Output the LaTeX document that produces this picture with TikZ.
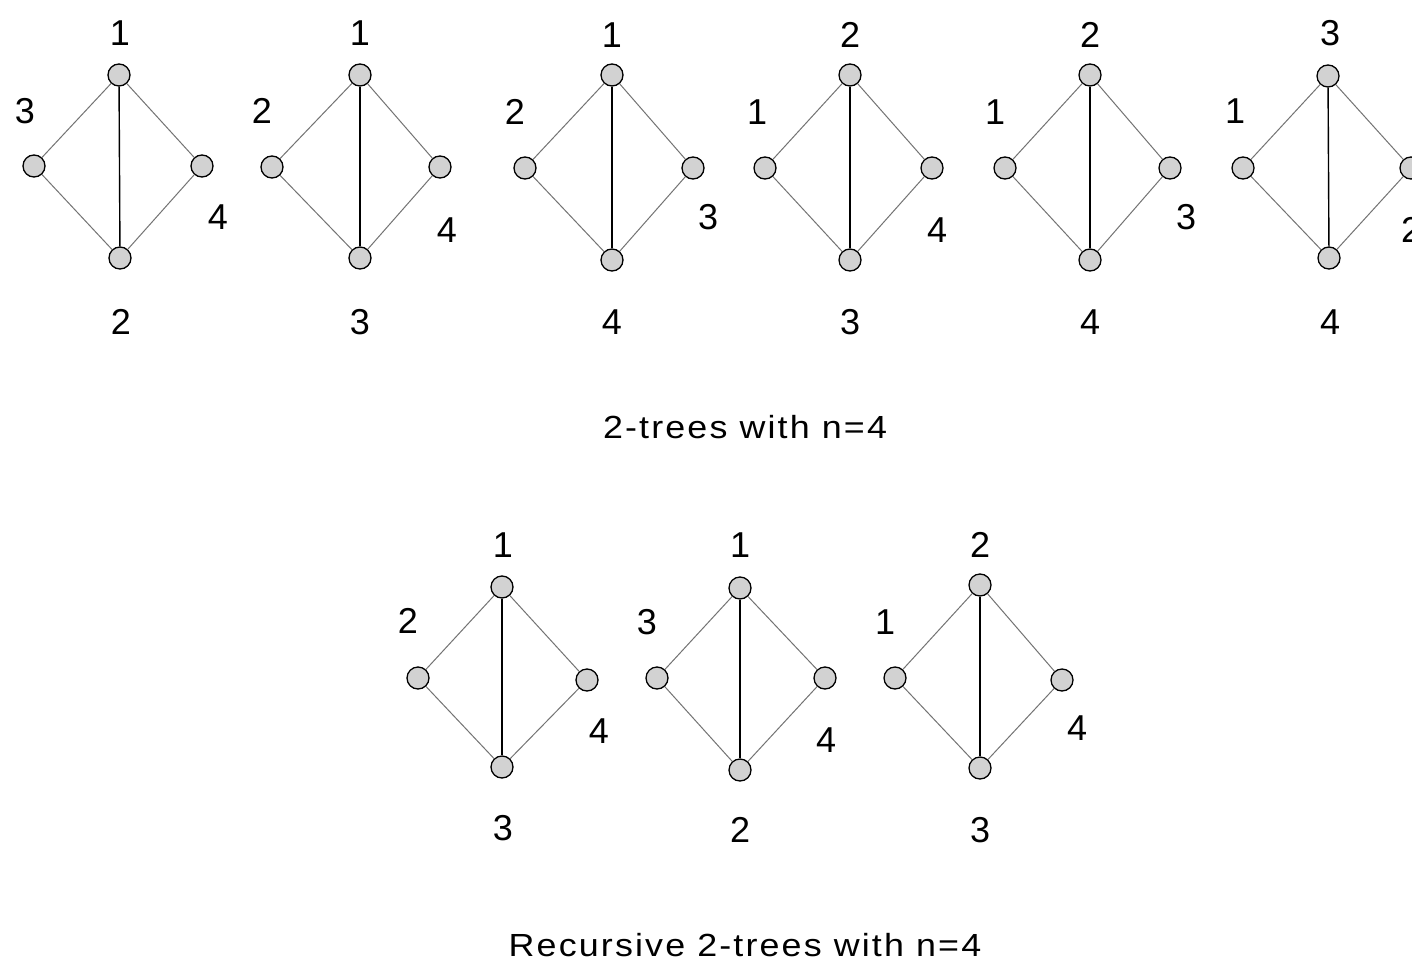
\documentclass[tikz,border=0pt]{standalone}
\usepackage{fontspec}
\setmainfont{Liberation Sans}
\newfontfamily\capfont[LetterSpace=6]{Liberation Sans}
\tikzset{
  vtx/.style={circle, draw=black, line width=1.3pt, fill=gray!35, minimum size=22pt, inner sep=0pt},
  diag/.style={draw=black!55, line width=1pt},
  vert/.style={draw=black, line width=1.4pt},
  lbl/.style={font=\fontsize{36}{40}\selectfont, inner sep=0pt},
  captext/.style={font=\capfont\fontsize{32}{36}\selectfont, inner sep=0pt}
}
\newcommand\tgraph[9]{%
  \node[vtx] (#1t) at (#2,#3) {};
  \node[vtx] (#1l) at (#4,#5) {};
  \node[vtx] (#1r) at (#6,#7) {};
  \node[vtx] (#1b) at (#8,#9) {};
  \draw[diag] (#1t) -- (#1l);
  \draw[diag] (#1t) -- (#1r);
  \draw[diag] (#1l) -- (#1b);
  \draw[diag] (#1r) -- (#1b);
  \draw[vert] (#1t) -- (#1b);
}
\begin{document}
\begin{tikzpicture}[x=1pt,y=-1pt]
\clip (0,0) rectangle (1412,971);
\fill[white] (0,0) rectangle (1412,971);
% top row
\tgraph{a}{119}{75}{34}{166}{202}{166}{120}{258}
\node[lbl] (aLt) at (120,33) {1};
\node[lbl] (aLl) at (25,111) {3};
\node[lbl] (aLr) at (218,217) {4};
\node[lbl] (aLb) at (121,322) {2};

\tgraph{b}{360}{75}{272}{167}{440}{167}{360}{258}
\node[lbl] (bLt) at (360,33) {1};
\node[lbl] (bLl) at (262,111) {2};
\node[lbl] (bLr) at (447,230) {4};
\node[lbl] (bLb) at (360,322) {3};

\tgraph{c}{612}{75}{525}{168}{693}{168}{612}{260}
\node[lbl] (cLt) at (612,35) {1};
\node[lbl] (cLl) at (515,112) {2};
\node[lbl] (cLr) at (708,217) {3};
\node[lbl] (cLb) at (612,322) {4};

\tgraph{d}{850}{75}{765}{168}{932}{168}{850}{260}
\node[lbl] (dLt) at (850,35) {2};
\node[lbl] (dLl) at (757,112) {1};
\node[lbl] (dLr) at (937,230) {4};
\node[lbl] (dLb) at (850,322) {3};

\tgraph{e}{1090}{75}{1005}{168}{1170}{168}{1090}{260}
\node[lbl] (eLt) at (1090,35) {2};
\node[lbl] (eLl) at (995,112) {1};
\node[lbl] (eLr) at (1186,217) {3};
\node[lbl] (eLb) at (1090,322) {4};

\tgraph{f}{1328}{76}{1243}{168}{1411}{168}{1329}{258}
\node[lbl] (fLt) at (1330,33) {3};
\node[lbl] (fLl) at (1235,111) {1};
\node[lbl] (fLr) at (1411,230) {2};
\node[lbl] (fLb) at (1330,322) {4};

\node[captext] (cap1) at (745,427) {\scalebox{1.12}[1]{2-trees with n=4}};

% bottom row
\tgraph{g}{502}{587}{418}{678}{587}{680}{502}{767}
\node[lbl] (gLt) at (503,545) {1};
\node[lbl] (gLl) at (408,621) {2};
\node[lbl] (gLr) at (599,731) {4};
\node[lbl] (gLb) at (503,828) {3};

\tgraph{h}{740}{588}{657}{678}{825}{678}{740}{770}
\node[lbl] (hLt) at (740,545) {1};
\node[lbl] (hLl) at (647,622) {3};
\node[lbl] (hLr) at (826,740) {4};
\node[lbl] (hLb) at (740,830) {2};

\tgraph{k}{980}{585}{895}{678}{1062}{680}{980}{768}
\node[lbl] (kLt) at (980,545) {2};
\node[lbl] (kLl) at (885,622) {1};
\node[lbl] (kLr) at (1077,728) {4};
\node[lbl] (kLb) at (980,830) {3};

\node[captext] (cap2) at (745,945) {\scalebox{1.12}[1]{Recursive 2-trees with n=4}};
\end{tikzpicture}
\end{document}
